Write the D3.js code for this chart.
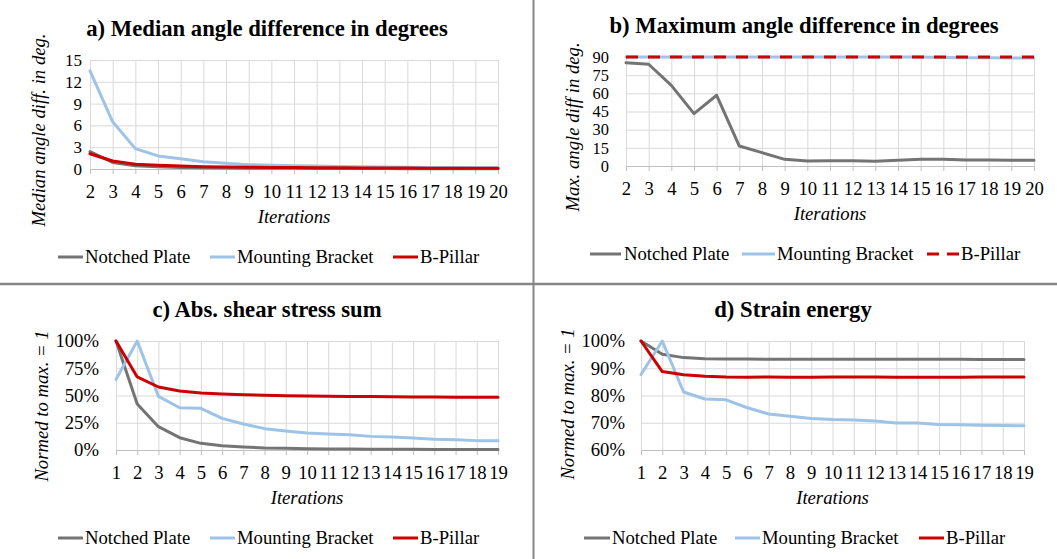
<!DOCTYPE html>
<html>
<head>
<meta charset="utf-8">
<script src="https://cdn.jsdelivr.net/npm/d3@7"></script>
<style>
  html, body { margin: 0; padding: 0; background: #fff; }
  svg { display: block; }
</style>
</head>
<body>
<svg id="chart" width="1057" height="559"></svg>
<script>
// ---- data ---------------------------------------------------------------
const seriesNames = ["Notched Plate", "Mounting Bracket", "B-Pillar"];

const iterationsAB = [2, 3, 4, 5, 6, 7, 8, 9, 10, 11, 12, 13, 14, 15, 16, 17, 18, 19, 20];
const iterationsCD = [1, 2, 3, 4, 5, 6, 7, 8, 9, 10, 11, 12, 13, 14, 15, 16, 17, 18, 19];

const yTicksA = [0, 3, 6, 9, 12, 15];
const yTicksB = [0, 15, 30, 45, 60, 75, 90];
const yTicksC = [0, 0.25, 0.5, 0.75, 1];
const yTicksD = [0.6, 0.7, 0.8, 0.9, 1];

// a) median angle difference (degrees)
const medianNotched = [2.4, 0.9, 0.45, 0.3, 0.22, 0.17, 0.14, 0.12, 0.1, 0.09, 0.08, 0.07, 0.06, 0.06, 0.05, 0.05, 0.04, 0.04, 0.04];
const medianBracket = [13.5, 6.5, 2.8, 1.8, 1.4, 1.0, 0.8, 0.6, 0.5, 0.45, 0.4, 0.35, 0.3, 0.28, 0.25, 0.22, 0.2, 0.18, 0.17];
const medianPillar  = [2.1, 1.1, 0.65, 0.5, 0.4, 0.32, 0.28, 0.25, 0.22, 0.2, 0.18, 0.16, 0.15, 0.14, 0.13, 0.12, 0.11, 0.1, 0.1];

// b) maximum angle difference (degrees)
const maxNotched = [85.3, 84, 66.6, 43.2, 58.4, 16.5, 11, 5.5, 4.1, 4.4, 4.4, 3.9, 4.7, 5.5, 5.5, 5, 5, 4.7, 4.7];
const maxBracket = [90, 90, 90, 90, 90, 90, 90, 90, 90, 90, 90, 90, 90, 90, 89.6, 89.4, 89.3, 89.2, 89.2];
const maxPillar  = [90, 90, 90, 90, 90, 90, 90, 90, 90, 90, 90, 90, 90, 90, 90, 90, 90, 90, 90];

// c) absolute shear stress sum (normed to max = 1)
const shearNotched = [1, 0.422, 0.214, 0.113, 0.061, 0.04, 0.028, 0.018, 0.015, 0.012, 0.01, 0.009, 0.008, 0.007, 0.006, 0.005, 0.005, 0.004, 0.004];
const shearBracket = [0.648, 1, 0.492, 0.388, 0.382, 0.29, 0.239, 0.196, 0.174, 0.156, 0.147, 0.14, 0.125, 0.119, 0.11, 0.098, 0.095, 0.086, 0.086];
const shearPillar  = [1, 0.67, 0.578, 0.541, 0.523, 0.514, 0.508, 0.502, 0.498, 0.495, 0.492, 0.491, 0.49, 0.488, 0.487, 0.486, 0.485, 0.484, 0.484];

// d) strain energy (normed to max = 1)
const energyNotched = [1, 0.951, 0.939, 0.935, 0.934, 0.934, 0.933, 0.933, 0.933, 0.933, 0.933, 0.933, 0.933, 0.933, 0.933, 0.933, 0.932, 0.932, 0.932];
const energyBracket = [0.877, 1, 0.813, 0.787, 0.784, 0.755, 0.732, 0.724, 0.716, 0.712, 0.71, 0.706, 0.699, 0.699, 0.694, 0.693, 0.691, 0.69, 0.689];
const energyPillar  = [1, 0.888, 0.876, 0.871, 0.868, 0.867, 0.868, 0.867, 0.867, 0.868, 0.868, 0.868, 0.867, 0.867, 0.867, 0.867, 0.868, 0.868, 0.868];

// ---- styles ---------------------------------------------------------------
const colors = ["#747474", "#9dc3e6", "#cc0000"];
const SERIF = '"Liberation Serif", "Times New Roman", Times, serif';
const FONT = "18.7px";
const TITLE_FONT = "22.7px";

// ---- panel definitions ------------------------------------------------------
const panels = [
  {
    title: "a) Median angle difference in degrees",
    yTitle: "Median angle diff. in deg.",
    cats: iterationsAB, values: [medianNotched, medianBracket, medianPillar],
    yDomain: [0, 15], yTicks: yTicksA, fmt: d3.format("d"), yTickFont: "17px",
    dashes: [null, null, null],
    box: { left: 90, right: 498, top: 60, bottom: 169 },
    yLabelGap: 8,
    titlePos: [267, 36], yTitlePos: [45, 130],
    legendY: 257, legend: [[58, 83, 85], [210, 235, 237], [393, 418, 420]]
  },
  {
    title: "b) Maximum angle difference in degrees",
    yTitle: "Max. angle diff in deg.",
    cats: iterationsAB, values: [maxNotched, maxBracket, maxPillar],
    yDomain: [0, 90], yTicks: yTicksB, fmt: d3.format("d"), yTickFont: "16.4px",
    dashes: [null, null, "12,10"],
    box: { left: 626, right: 1034, top: 57, bottom: 166 },
    yLabelGap: 17,
    titlePos: [804, 33], yTitlePos: [579, 127],
    legendY: 254, legend: [[590, 621, 624], [742, 775, 777], [927, 959, 961]]
  },
  {
    title: "c) Abs. shear stress sum",
    yTitle: "Normed to max. = 1",
    cats: iterationsCD, values: [shearNotched, shearBracket, shearPillar],
    yDomain: [0, 1], yTicks: yTicksC, fmt: d3.format(".0%"), yTickFont: FONT,
    dashes: [null, null, null],
    box: { left: 116, right: 498, top: 341, bottom: 450 },
    yLabelGap: 17,
    titlePos: [267, 317], yTitlePos: [48, 406],
    legendY: 538, legend: [[58, 83, 85], [210, 235, 237], [393, 418, 420]]
  },
  {
    title: "d) Strain energy",
    yTitle: "Normed to max. = 1",
    cats: iterationsCD, values: [energyNotched, energyBracket, energyPillar],
    yDomain: [0.6, 1], yTicks: yTicksD, fmt: d3.format(".0%"), yTickFont: FONT,
    dashes: [null, null, null],
    box: { left: 641, right: 1024, top: 341, bottom: 450 },
    yLabelGap: 16,
    titlePos: [793, 317], yTitlePos: [574, 404],
    legendY: 538, legend: [[584, 610, 612], [735, 760, 762], [919, 944, 946]]
  }
];

const svg = d3.select("#chart");

// panel separators
svg.append("line").attr("x1", 533.5).attr("x2", 533.5).attr("y1", 0).attr("y2", 559)
  .attr("stroke", "#868686").attr("stroke-width", 2);
svg.append("line").attr("x1", 0).attr("x2", 1057).attr("y1", 284).attr("y2", 284)
  .attr("stroke", "#868686").attr("stroke-width", 2.5);

function textStyle(sel) {
  return sel.style("font-family", SERIF).style("font-size", FONT).attr("fill", "#000");
}

panels.forEach(p => {
  const b = p.box;
  const w = b.right - b.left, h = b.bottom - b.top;
  const x = d3.scalePoint().domain(p.cats).range([b.left, b.right]).padding(0);
  const y = d3.scaleLinear().domain(p.yDomain).range([b.bottom, b.top]);
  const g = svg.append("g");

  // vertical gridlines
  g.append("g").attr("transform", `translate(0,${b.bottom})`)
    .call(d3.axisBottom(x).tickSize(-h).tickFormat(""))
    .call(s => s.select(".domain").remove())
    .call(s => s.selectAll("line").attr("stroke", "#d9d9d9").attr("stroke-width", 1));

  // horizontal gridlines + y tick labels
  g.append("g").attr("transform", `translate(${b.left},0)`)
    .call(d3.axisLeft(y).tickValues(p.yTicks).tickSize(-w).tickPadding(p.yLabelGap).tickFormat(p.fmt))
    .call(s => s.select(".domain").remove())
    .call(s => s.selectAll("line").attr("stroke", "#d9d9d9").attr("stroke-width", 1))
    .call(s => textStyle(s.selectAll("text")).style("font-size", p.yTickFont));

  // x axis with tick marks and labels
  g.append("g").attr("transform", `translate(0,${b.bottom})`)
    .call(d3.axisBottom(x).tickSize(5).tickPadding(10.7))
    .call(s => s.select(".domain").attr("stroke", "#bfbfbf").attr("stroke-width", 1))
    .call(s => s.selectAll("line").attr("stroke", "#bfbfbf"))
    .call(s => textStyle(s.selectAll("text")));

  // series lines
  const line = d3.line().x((d, i) => x(p.cats[i])).y(d => y(d));
  p.values.forEach((vals, k) => {
    g.append("path").datum(vals)
      .attr("d", line)
      .attr("fill", "none")
      .attr("stroke", colors[k])
      .attr("stroke-width", 3)
      .attr("stroke-linejoin", "round")
      .attr("stroke-linecap", p.dashes[k] ? "butt" : "round")
      .attr("stroke-dasharray", p.dashes[k]);
  });

  // title
  textStyle(g.append("text")).attr("x", p.titlePos[0]).attr("y", p.titlePos[1])
    .attr("text-anchor", "middle").style("font-weight", "bold")
    .style("font-size", TITLE_FONT).text(p.title);

  // axis titles
  textStyle(g.append("text")).attr("x", (b.left + b.right) / 2).attr("y", b.bottom + 54)
    .attr("text-anchor", "middle").style("font-style", "italic").text("Iterations");
  textStyle(g.append("text"))
    .attr("transform", `translate(${p.yTitlePos[0]},${p.yTitlePos[1]}) rotate(-90)`)
    .attr("text-anchor", "middle").style("font-style", "italic").text(p.yTitle);

  // legend
  const lg = g.append("g");
  p.legend.forEach((pos, k) => {
    lg.append("line").attr("x1", pos[0]).attr("x2", pos[1])
      .attr("y1", p.legendY).attr("y2", p.legendY)
      .attr("stroke", colors[k]).attr("stroke-width", 3)
      .attr("stroke-dasharray", p.dashes[k] ? "12,8" : null);
    textStyle(lg.append("text")).attr("x", pos[2]).attr("y", p.legendY + 6.3)
      .text(seriesNames[k]);
  });
});
</script>
</body>
</html>
